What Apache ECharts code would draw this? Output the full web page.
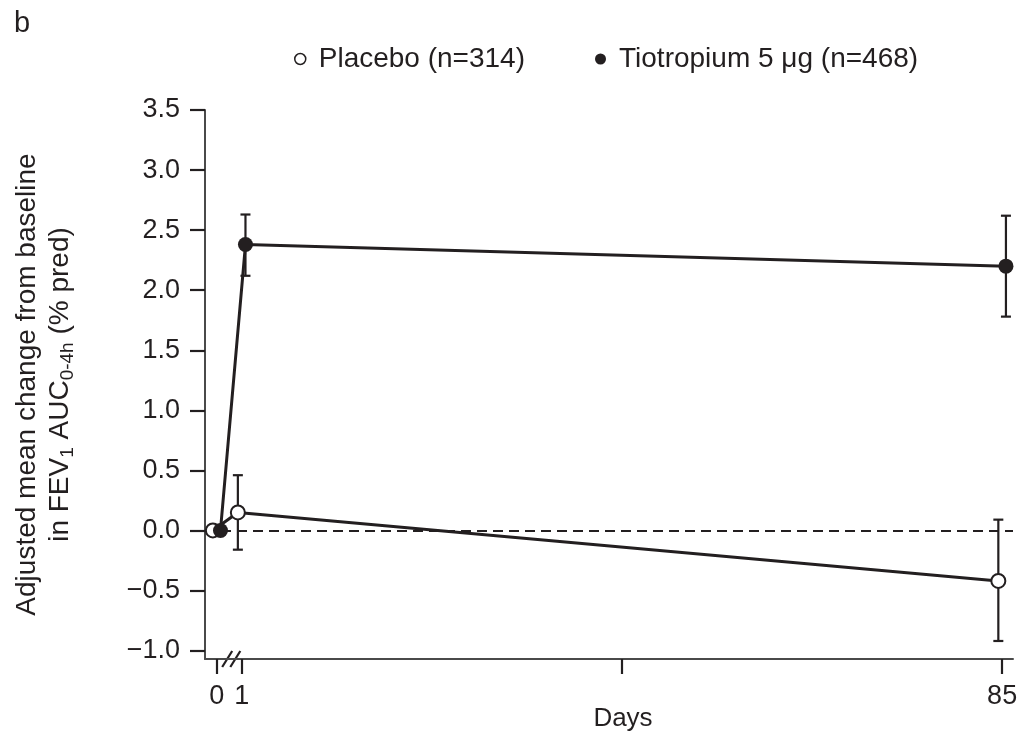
<!DOCTYPE html>
<html>
<head>
<meta charset="utf-8">
<script src="https://cdn.jsdelivr.net/npm/echarts@6/dist/echarts.min.js"></script>
<style>
html,body{margin:0;padding:0;background:#fff;}
#main{width:1021px;height:737px;}
</style>
</head>
<body>
<div id="main"></div>
<script>
// ---- data ----
var days = [0, 1, 85];
var placeboMean = [0, 0.15, -0.42];
var placeboLow = [null, -0.16, -0.92];
var placeboHigh = [null, 0.46, 0.09];
var tioMean = [0, 2.38, 2.20];
var tioLow = [null, 2.12, 1.78];
var tioHigh = [null, 2.63, 2.62];
var yTicks = [-1.0, -0.5, 0.0, 0.5, 1.0, 1.5, 2.0, 2.5, 3.0, 3.5];
var xTickDays = [0, 1, 43, 85];
var xLabelDays = [0, 1, 85];
var seriesNames = ['Placebo (n=314)', 'Tiotropium 5 μg (n=468)'];

// ---- broken x axis: day 0 sits left of the break ----
var ZERO_POS = -1.76;
function pos(d) { return d === 0 ? ZERO_POS : d; }
function dayOf(p) { return Math.abs(p - ZERO_POS) < 1e-6 ? 0 : Math.round(p); }
var SHIFT = 0.42; // small horizontal dodge between groups

var INK = '#231f20';
var AXIS = '#4a4a4a';

function pts(mean, off) {
  return days.map(function (d, i) { return [pos(d) + off, mean[i]]; });
}
function bars(low, high, off) {
  var out = [];
  days.forEach(function (d, i) {
    if (low[i] != null) out.push([pos(d) + off, low[i], high[i]]);
  });
  return out;
}
function errRender(params, api) {
  var x = api.value(0);
  var lo = api.coord([x, api.value(1)]);
  var hi = api.coord([x, api.value(2)]);
  var w = 5;
  var st = { stroke: INK, lineWidth: 2.2 };
  return {
    type: 'group',
    children: [
      { type: 'line', shape: { x1: lo[0], y1: lo[1], x2: hi[0], y2: hi[1] }, style: st },
      { type: 'line', shape: { x1: lo[0] - w, y1: lo[1], x2: lo[0] + w, y2: lo[1] }, style: st },
      { type: 'line', shape: { x1: hi[0] - w, y1: hi[1], x2: hi[0] + w, y2: hi[1] }, style: st }
    ]
  };
}

var FONT = 'Liberation Sans, Arial, Helvetica, sans-serif';
var chart = echarts.init(document.getElementById('main'), null, { renderer: 'canvas' });

var option = {
  backgroundColor: '#fff',
  animation: false,
  textStyle: { fontFamily: FONT, color: INK },
  title: {
    text: 'b', left: 9, top: 4,
    textStyle: { fontFamily: FONT, fontSize: 29, fontWeight: 'normal', color: INK }
  },
  legend: {
    top: 40, left: 289,
    itemWidth: 11, itemHeight: 11, itemGap: 70,
    textStyle: { fontFamily: FONT, fontSize: 28, color: INK, padding: [0, 0, 0, 8] },
    data: [
      { name: seriesNames[0], icon: 'circle', itemStyle: { color: '#fff', borderColor: INK, borderWidth: 1.5 } },
      { name: seriesNames[1], icon: 'circle', itemStyle: { color: INK, borderColor: INK, borderWidth: 0 } }
    ]
  },
  grid: { left: 205, right: 8, top: 110, bottom: 78, outerBoundsMode: 'none', containLabel: false },
  xAxis: {
    type: 'value', min: -3.05, max: 86.2,
    name: 'Days', nameLocation: 'middle', nameGap: 47, nameMoveOverlap: false,
    nameTextStyle: { fontFamily: FONT, fontSize: 26, color: INK, padding: [0, 0, 0, 28] },
    axisLine: { onZero: false, lineStyle: { color: AXIS, width: 2 } },
    axisTick: { show: true, length: 15, inside: false, lineStyle: { color: INK, width: 2.2 },
      customValues: xTickDays.map(pos) },
    axisLabel: { fontFamily: FONT, fontSize: 27, color: INK, margin: 24,
      customValues: xLabelDays.map(pos),
      formatter: function (v) { return String(dayOf(v)); } },
    splitLine: { show: false }
  },
  yAxis: {
    type: 'value', min: -1.07, max: 3.5,
    name: '{n|Adjusted mean change from baseline}\n{n|in FEV}{s|1}{n| AUC}{s|0-4h}{n| (% pred)}',
    nameLocation: 'middle', nameRotate: 90, nameGap: 128, nameMoveOverlap: false,
    nameTextStyle: {
      fontFamily: FONT, color: INK, align: 'center',
      rich: {
        n: { fontFamily: FONT, fontSize: 28, color: INK, lineHeight: 33 },
        s: { fontFamily: FONT, fontSize: 19, color: INK, lineHeight: 19, verticalAlign: 'bottom' }
      }
    },
    axisLine: { show: true, onZero: false, lineStyle: { color: AXIS, width: 2 } },
    axisTick: { show: true, length: 15, inside: false, lineStyle: { color: INK, width: 2.2 }, customValues: yTicks },
    axisLabel: { fontFamily: FONT, fontSize: 27, color: INK, margin: 25, customValues: yTicks,
      formatter: function (v) { return (v < 0 ? '\u2212' : '') + Math.abs(v).toFixed(1); } },
    splitLine: { show: false }
  },
  series: [
    {
      name: seriesNames[0], type: 'line', data: pts(placeboMean, -SHIFT),
      symbol: 'circle', symbolSize: 14, z: 5,
      lineStyle: { color: INK, width: 3 },
      itemStyle: { color: '#fff', borderColor: INK, borderWidth: 2 },
      markLine: {
        silent: true, symbol: ['none', 'none'], label: { show: false },
        lineStyle: { color: INK, width: 2, type: [10, 6] },
        data: [[{ coord: [-3.05, 0] }, { coord: [86.2, 0] }]],
        z: 1
      }
    },
    {
      name: seriesNames[1], type: 'line', data: pts(tioMean, SHIFT),
      symbol: 'circle', symbolSize: 15, z: 6,
      lineStyle: { color: INK, width: 3 },
      itemStyle: { color: INK, borderColor: INK, borderWidth: 0 }
    },
    {
      name: 'placeboErr', type: 'custom', renderItem: errRender, data: bars(placeboLow, placeboHigh, -SHIFT),
      z: 3, silent: true
    },
    {
      name: 'tioErr', type: 'custom', renderItem: errRender, data: bars(tioLow, tioHigh, SHIFT),
      z: 3, silent: true
    }
  ]
};
chart.setOption(option);

// axis-break marks placed through the axis scale
function drawBreak() {
  var a = chart.convertToPixel({ gridIndex: 0 }, [-0.6, -1.07]);
  var b = chart.convertToPixel({ gridIndex: 0 }, [0.3, -1.07]);
  var h = 8, dx = 5;
  chart.setOption({
    graphic: [
      { type: 'line', shape: { x1: a[0] - dx, y1: a[1] + h, x2: a[0] + dx, y2: a[1] - h }, style: { stroke: INK, lineWidth: 2.2 } },
      { type: 'line', shape: { x1: b[0] - dx, y1: b[1] + h, x2: b[0] + dx, y2: b[1] - h }, style: { stroke: INK, lineWidth: 2.2 } }
    ]
  });
}
drawBreak();
</script>
</body>
</html>
